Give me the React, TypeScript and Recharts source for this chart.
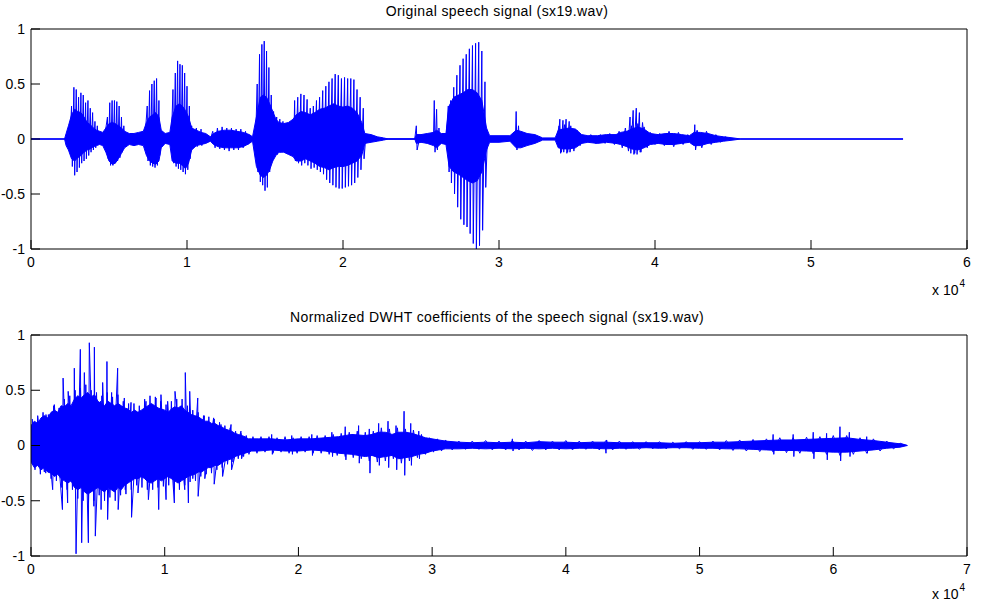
import { ComposedChart, Area, Line, XAxis, YAxis } from 'recharts';

// sx19.wav waveform. core = dense body [sample, low, high]
const speechCore: [number, number, number][] = [
  [0, 0, 0], [2150, 0, 0], [2250, -0.06, 0.05], [2400, -0.1, 0.12], [2600, -0.18, 0.22],
  [2800, -0.2, 0.27], [3000, -0.17, 0.25], [3200, -0.15, 0.24], [3400, -0.12, 0.2],
  [3600, -0.1, 0.15], [3800, -0.09, 0.13], [4000, -0.07, 0.1], [4200, -0.06, 0.08],
  [4400, -0.05, 0.07], [4600, -0.06, 0.06], [4800, -0.12, 0.1], [5000, -0.2, 0.14],
  [5200, -0.23, 0.15], [5400, -0.22, 0.14], [5600, -0.18, 0.12], [5800, -0.13, 0.1],
  [6000, -0.08, 0.07], [6300, -0.05, 0.05], [6600, -0.06, 0.05], [6900, -0.05, 0.06],
  [7200, -0.06, 0.07], [7400, -0.15, 0.15], [7600, -0.2, 0.2], [7800, -0.22, 0.22],
  [8000, -0.23, 0.24], [8200, -0.2, 0.2], [8350, -0.08, 0.08], [8600, -0.04, 0.05],
  [8900, -0.05, 0.06], [9050, -0.2, 0.2], [9300, -0.22, 0.3], [9500, -0.22, 0.32],
  [9700, -0.24, 0.3], [9900, -0.27, 0.26], [10100, -0.22, 0.2], [10300, -0.1, 0.1],
  [10600, -0.06, 0.08], [10900, -0.05, 0.06], [11200, -0.04, 0.05], [11500, -0.02, 0.02],
  [11700, -0.05, 0.05], [12000, -0.07, 0.07], [12400, -0.08, 0.08], [12800, -0.08, 0.08],
  [13200, -0.08, 0.07], [13600, -0.07, 0.06], [14000, -0.04, 0.04], [14200, -0.02, 0.02],
  [14450, -0.25, 0.2], [14700, -0.33, 0.38], [14900, -0.35, 0.4], [15100, -0.33, 0.38],
  [15300, -0.28, 0.32], [15500, -0.2, 0.25], [15700, -0.15, 0.18], [15900, -0.12, 0.15],
  [16200, -0.12, 0.14], [16500, -0.14, 0.15], [16800, -0.16, 0.18], [17000, -0.2, 0.22],
  [17300, -0.2, 0.25], [17600, -0.18, 0.24], [17900, -0.2, 0.22], [18200, -0.22, 0.24],
  [18500, -0.25, 0.27], [18800, -0.26, 0.28], [19100, -0.28, 0.3], [19400, -0.26, 0.32],
  [19700, -0.25, 0.3], [20000, -0.25, 0.29], [20300, -0.24, 0.3], [20600, -0.22, 0.28],
  [20900, -0.2, 0.24], [21200, -0.15, 0.15], [21400, -0.04, 0.05], [21800, -0.03, 0.04],
  [22200, -0.02, 0.02], [22600, -0.01, 0.01], [22900, 0, 0], [24600, 0, 0],
  [24700, -0.04, 0.04], [25000, -0.03, 0.04], [25400, -0.04, 0.05], [25800, -0.06, 0.06],
  [26000, -0.08, 0.08], [26300, -0.04, 0.05], [26600, -0.05, 0.05], [26800, -0.25, 0.3],
  [27100, -0.3, 0.38], [27400, -0.32, 0.4], [27700, -0.35, 0.42], [28000, -0.38, 0.45],
  [28300, -0.4, 0.45], [28600, -0.38, 0.42], [28900, -0.3, 0.35], [29200, -0.1, 0.1],
  [29400, -0.03, 0.03], [30000, -0.03, 0.03], [30700, -0.02, 0.03], [31100, -0.08, 0.08],
  [31400, -0.08, 0.07], [31800, -0.06, 0.05], [32300, -0.04, 0.04], [32800, -0.01, 0.01],
  [33600, -0.01, 0.01], [33800, -0.08, 0.08], [34100, -0.09, 0.09], [34500, -0.09, 0.1],
  [34900, -0.08, 0.09], [35300, -0.04, 0.04], [35700, -0.03, 0.03], [36300, -0.04, 0.03],
  [36900, -0.03, 0.04], [37500, -0.04, 0.04], [37800, -0.05, 0.06], [38200, -0.07, 0.07],
  [38500, -0.09, 0.09], [38900, -0.1, 0.11], [39300, -0.08, 0.09], [39700, -0.05, 0.05],
  [40200, -0.04, 0.04], [40700, -0.05, 0.05], [41200, -0.05, 0.05], [41700, -0.04, 0.04],
  [42200, -0.03, 0.03], [42500, -0.06, 0.06], [42900, -0.06, 0.06], [43400, -0.04, 0.05],
  [43900, -0.03, 0.03], [44400, -0.02, 0.02], [45000, -0.01, 0.01], [45500, 0, 0],
  [55900, 0, 0],
];

// pitch pulses poking out of the body: [sample, amplitude]
const speechPeaks: [number, number][] = [
  [0, 0], [2500, 0],
  [2600, 0.3], [2650, -0.25], [2750, 0.47], [2800, -0.33], [2900, 0.45], [2950, -0.3],
  [3050, 0.38], [3100, -0.26], [3200, 0.42], [3250, -0.22], [3350, 0.4], [3400, -0.2],
  [3500, 0.33], [3550, -0.18], [3650, 0.35], [3700, -0.15], [3800, 0.28], [3850, -0.12],
  [3950, 0.24], [4000, -0.1], [4100, 0.16], [4150, -0.08], [4250, 0.12], [4300, 0],
  [4700, 0], [4900, 0.2], [4950, -0.18], [5050, 0.33], [5100, -0.24], [5200, 0.35],
  [5250, -0.24], [5350, 0.35], [5400, -0.22], [5500, 0.34], [5550, -0.2], [5650, 0.3],
  [5700, -0.17], [5800, 0.2], [5850, -0.12], [5950, 0.12], [6000, 0],
  [7300, 0], [7450, 0.3], [7500, -0.2], [7600, 0.44], [7650, -0.24], [7750, 0.5],
  [7800, -0.25], [7900, 0.53], [7950, -0.26], [8050, 0.55], [8100, -0.24], [8200, 0.35],
  [8250, -0.15], [8350, 0],
  [9000, 0], [9100, 0.45], [9150, -0.22], [9250, 0.6], [9300, -0.25], [9400, 0.71],
  [9450, -0.27], [9550, 0.68], [9600, -0.28], [9700, 0.67], [9750, -0.3], [9850, 0.6],
  [9900, -0.32], [10000, 0.48], [10050, -0.28], [10150, 0.3], [10200, -0.18], [10300, 0.12],
  [10350, 0], [10550, 0], [10600, 0.1], [10650, -0.07], [10700, 0], [10850, 0], [10900, 0.09],
  [10950, -0.06], [11000, 0],
  [14400, 0], [14500, 0.5], [14550, -0.3], [14650, 0.77], [14700, -0.39], [14800, 0.86],
  [14850, -0.42], [14950, 0.89], [15000, -0.47], [15100, 0.8], [15150, -0.44], [15250, 0.65],
  [15300, -0.3], [15400, 0.4], [15450, -0.2], [15550, 0.25], [15600, -0.15], [15750, 0.2],
  [15800, -0.14], [15950, 0.18], [16000, -0.12], [16150, 0.16], [16200, 0],
  [16850, 0], [16900, 0.35], [16950, -0.2], [17100, 0.38], [17150, -0.22], [17300, 0.41],
  [17350, -0.24], [17500, 0.4], [17550, -0.22], [17700, 0.36], [17750, -0.24], [17900, 0.28],
  [17950, -0.27], [18100, 0.3], [18150, -0.26], [18300, 0.35], [18350, -0.28], [18500, 0.38],
  [18550, -0.3], [18700, 0.44], [18750, -0.32], [18900, 0.48], [18950, -0.37], [19100, 0.52],
  [19150, -0.4], [19300, 0.55], [19350, -0.42], [19500, 0.59], [19550, -0.44], [19700, 0.58],
  [19750, -0.45], [19900, 0.55], [19950, -0.45], [20100, 0.56], [20150, -0.44], [20300, 0.55],
  [20350, -0.43], [20500, 0.55], [20550, -0.42], [20700, 0.54], [20750, -0.4], [20900, 0.45],
  [20950, -0.35], [21100, 0.38], [21150, -0.28], [21300, 0.28], [21350, -0.18], [21450, 0],
  [24600, 0], [24700, 0.12], [24750, -0.1], [24900, 0], [25800, 0], [25850, 0.35],
  [25900, -0.12], [26000, 0.27], [26050, -0.1], [26150, 0.1], [26200, 0],
  [26600, 0], [26750, 0.3], [26800, -0.3], [26900, 0.35], [26950, -0.4], [27100, 0.47],
  [27150, -0.5], [27300, 0.58], [27350, -0.62], [27500, 0.67], [27550, -0.73], [27700, 0.73],
  [27750, -0.78], [27900, 0.77], [27950, -0.8], [28100, 0.82], [28150, -0.86], [28300, 0.85],
  [28350, -0.95], [28500, 0.87], [28550, -1.0], [28700, 0.88], [28750, -0.97], [28900, 0.8],
  [28950, -0.83], [29100, 0.52], [29150, -0.44], [29250, 0],
  [31050, 0], [31100, 0.25], [31150, -0.1], [31250, 0.12], [31300, 0],
  [33800, 0], [33900, 0.18], [33950, -0.13], [34100, 0.17], [34150, -0.12], [34300, 0.18],
  [34350, -0.13], [34500, 0.16], [34550, -0.12], [34700, 0],
  [38300, 0], [38400, 0.2], [38450, -0.13], [38600, 0.26], [38650, -0.14], [38800, 0.28],
  [38850, -0.14], [39000, 0.24], [39050, -0.12], [39200, 0.15], [39300, 0],
  [42500, 0], [42550, 0.13], [42600, -0.1], [42700, 0], [55900, 0],
];

// unvoiced noise around the body: [sample, amplitude]
const speechNoise: [number, number][] = [
  [11500, 0], [11650, 0.07], [11800, -0.08], [11950, 0.1], [12100, -0.09], [12250, 0.11],
  [12400, -0.1], [12550, 0.1], [12700, -0.11], [12850, 0.1], [13000, -0.1], [13150, 0.09],
  [13300, -0.1], [13450, 0.09], [13600, -0.08], [13750, 0.07], [13900, -0.05], [14050, 0.03],
  [14200, 0],
  [33700, 0], [33850, 0.12], [34000, -0.12], [34200, 0.13], [34400, -0.12], [34600, 0.12],
  [34800, -0.11], [35000, 0.08], [35200, -0.06], [35400, 0],
  [35600, 0], [35900, 0.04], [36200, -0.04], [36500, 0.04], [36800, -0.04], [37100, 0.05],
  [37400, -0.05], [37700, 0.07], [37900, -0.08], [38100, 0.1], [38300, -0.11], [38500, 0.12],
  [38700, -0.13], [38900, 0.14], [39100, -0.12], [39300, 0.11], [39500, -0.08], [39700, 0.06],
  [40000, -0.05], [40300, 0.05], [40600, -0.06], [40900, 0.07], [41200, -0.07], [41500, 0.06],
  [41800, -0.05], [42100, 0.04], [42400, -0.05], [42700, 0.08], [43000, -0.08], [43300, 0.07],
  [43600, -0.05], [43900, 0.04], [44200, -0.03], [44500, 0.02], [44800, 0],
];

// normalized DWHT coefficients: body [index, low, high]
const dwhtCore: [number, number, number][] = [
  [0, -0.15, 0.18], [250, -0.2, 0.22], [500, -0.18, 0.2], [750, -0.22, 0.25], [1000, -0.2, 0.27],
  [1250, -0.24, 0.25], [1500, -0.25, 0.3], [1750, -0.28, 0.32], [2000, -0.26, 0.3],
  [2250, -0.3, 0.36], [2500, -0.32, 0.35], [2750, -0.34, 0.38], [3000, -0.32, 0.36],
  [3250, -0.38, 0.42], [3500, -0.4, 0.45], [3750, -0.38, 0.43], [4000, -0.42, 0.46],
  [4250, -0.44, 0.48], [4500, -0.42, 0.44], [4750, -0.4, 0.46], [5000, -0.38, 0.4],
  [5250, -0.4, 0.38], [5500, -0.42, 0.36], [5750, -0.38, 0.4], [6000, -0.4, 0.38],
  [6250, -0.42, 0.36], [6500, -0.38, 0.38], [6750, -0.4, 0.36], [7000, -0.36, 0.34],
  [7250, -0.34, 0.33], [7500, -0.32, 0.3], [7750, -0.3, 0.32], [8000, -0.3, 0.3],
  [8250, -0.28, 0.32], [8500, -0.3, 0.34], [8750, -0.33, 0.36], [9000, -0.34, 0.38],
  [9250, -0.32, 0.36], [9500, -0.3, 0.34], [9750, -0.32, 0.33], [10000, -0.3, 0.32],
  [10250, -0.28, 0.3], [10500, -0.3, 0.33], [10750, -0.32, 0.35], [11000, -0.34, 0.34],
  [11250, -0.32, 0.36], [11500, -0.3, 0.32], [11750, -0.28, 0.3], [12000, -0.27, 0.28],
  [12250, -0.26, 0.27], [12500, -0.24, 0.26], [12750, -0.24, 0.24], [13000, -0.22, 0.22],
  [13250, -0.2, 0.22], [13500, -0.2, 0.2], [13750, -0.18, 0.2], [14000, -0.18, 0.18],
  [14250, -0.16, 0.17], [14500, -0.14, 0.15], [14750, -0.13, 0.14], [15000, -0.12, 0.13],
  [15250, -0.1, 0.11], [15500, -0.09, 0.1], [15750, -0.08, 0.09], [16000, -0.07, 0.08],
  [16250, -0.06, 0.06], [16500, -0.05, 0.06], [17000, -0.05, 0.06], [18000, -0.04, 0.06],
  [19000, -0.05, 0.05], [20000, -0.05, 0.06], [21000, -0.04, 0.06], [22000, -0.05, 0.07],
  [23000, -0.07, 0.08], [24000, -0.08, 0.1], [25000, -0.1, 0.09], [25500, -0.09, 0.1],
  [26000, -0.11, 0.12], [26500, -0.1, 0.12], [27000, -0.09, 0.1], [27500, -0.12, 0.12],
  [28000, -0.11, 0.12], [28500, -0.1, 0.11], [29000, -0.08, 0.09], [29500, -0.07, 0.07],
  [30000, -0.05, 0.06], [30500, -0.04, 0.05], [31000, -0.03, 0.04], [32000, -0.03, 0.03],
  [33000, -0.025, 0.025], [34000, -0.03, 0.03], [35000, -0.025, 0.025], [36000, -0.03, 0.03],
  [37000, -0.025, 0.025], [38000, -0.03, 0.035], [39000, -0.025, 0.03], [40000, -0.03, 0.03],
  [41000, -0.025, 0.025], [42000, -0.025, 0.03], [43000, -0.03, 0.03], [44000, -0.025, 0.025],
  [45000, -0.025, 0.025], [46000, -0.02, 0.025], [47000, -0.025, 0.025], [48000, -0.02, 0.02],
  [49000, -0.02, 0.025], [50000, -0.025, 0.025], [51000, -0.025, 0.03], [52000, -0.03, 0.03],
  [53000, -0.03, 0.035], [54000, -0.035, 0.04], [55000, -0.04, 0.045], [56000, -0.045, 0.05],
  [57000, -0.045, 0.05], [58000, -0.05, 0.055], [59000, -0.055, 0.06], [60000, -0.06, 0.065],
  [61000, -0.06, 0.07], [62000, -0.05, 0.055], [63000, -0.04, 0.045], [64000, -0.025, 0.03],
  [65000, -0.015, 0.015], [65536, 0, 0],
];

// largest DWHT coefficients: [index, value]
const dwhtPeaks: [number, number][] = [
  [0, 0], [370, -0.16], [500, 0.27], [1000, -0.24], [1120, 0.28], [1620, -0.4], [1745, 0.37],
  [2350, -0.58], [2400, 0.61], [2740, -0.52], [2780, 0.49], [3200, -0.35], [3240, 0.7],
  [3370, -0.98], [3690, 0.87], [3790, -0.88], [3990, 0.66], [4290, -0.88], [4360, 0.93],
  [4700, -0.5], [4740, 0.89], [4810, -0.82], [5200, 0.4], [5240, -0.58], [5360, 0.57],
  [5650, -0.4], [5680, 0.76], [5730, -0.67], [6030, 0.48], [6100, -0.4], [6480, 0.7],
  [6520, -0.58], [6980, 0.43], [7050, -0.4], [7480, 0.39], [7520, -0.65], [7980, 0.3],
  [8000, -0.43], [8600, 0.4], [8780, -0.49], [9350, 0.43], [9550, -0.58], [9720, 0.46],
  [10100, -0.49], [10220, 0.4], [10720, -0.52], [10770, 0.49], [11500, -0.4], [11540, 0.66],
  [11770, -0.52], [11870, 0.49], [12100, -0.3], [12470, 0.43], [12500, -0.46], [12960, 0.27],
  [13000, -0.3], [13660, 0.25], [13700, -0.35], [14210, 0.19], [14330, -0.28], [14960, 0.19],
  [15000, -0.22], [15700, 0.13], [15750, -0.12], [16000, 0],
  [17950, 0], [18000, 0.1], [18050, -0.08], [18100, 0], [19450, 0], [19500, 0.09], [19550, -0.08],
  [19600, 0], [20950, 0], [21000, 0.1], [21050, -0.09], [21100, 0], [22450, 0], [22500, 0.12],
  [22550, -0.1], [22600, 0], [23450, 0], [23500, 0.17], [23550, -0.13], [23600, 0],
  [24450, 0], [24500, 0.18], [24550, -0.16], [24600, 0], [25250, 0], [25300, 0.15],
  [25350, -0.25], [25400, 0], [25950, 0], [26000, 0.2], [26050, -0.18], [26100, 0],
  [26650, 0], [26700, 0.22], [26750, -0.2], [26800, 0], [27250, 0], [27300, 0.18],
  [27350, -0.22], [27400, 0], [27850, 0], [27900, 0.31], [27950, -0.27], [28000, 0],
  [28350, 0], [28400, 0.2], [28450, -0.18], [28500, 0], [28950, 0], [29000, 0.13],
  [29050, -0.12], [29100, 0],
  [35950, 0], [36000, 0.06], [36050, -0.05], [36100, 0], [42950, 0], [43000, -0.07],
  [43050, 0.05], [43100, 0], [55450, 0], [55500, 0.1], [55550, -0.08], [55600, 0],
  [56950, 0], [57000, 0.1], [57050, -0.1], [57100, 0], [58450, 0], [58500, 0.12],
  [58550, -0.12], [58600, 0], [59450, 0], [59500, 0.11], [59550, -0.13], [59600, 0],
  [60450, 0], [60500, 0.17], [60550, -0.14], [60600, 0], [61150, 0], [61200, 0.12],
  [61250, -0.1], [61300, 0], [62450, 0], [62500, 0.08], [62550, -0.07], [62600, 0],
];

// ragged edge of the DWHT body: [index, value]
const dwhtNoise: [number, number][] = [
  [100, 0.24], [300, -0.22], [500, 0.22], [700, -0.26], [900, 0.3], [1100, -0.25],
  [1300, 0.28], [1500, -0.3], [1700, 0.36], [1900, -0.32], [2100, 0.34], [2300, -0.38],
  [2500, 0.42], [2700, -0.4], [2900, 0.45], [3100, -0.4], [3300, 0.5], [3500, -0.48],
  [3700, 0.52], [3900, -0.5], [4100, 0.55], [4300, -0.52], [4500, 0.5], [4700, -0.55],
  [4900, 0.48], [5100, -0.45], [5300, 0.45], [5500, -0.5], [5700, 0.48], [5900, -0.47],
  [6100, 0.44], [6300, -0.5], [6500, 0.46], [6700, -0.45], [6900, 0.4], [7100, -0.44],
  [7300, 0.38], [7500, -0.4], [7700, 0.38], [7900, -0.36], [8100, 0.36], [8300, -0.38],
  [8500, 0.42], [8700, -0.4], [8900, 0.45], [9100, -0.4], [9300, 0.44], [9500, -0.38],
  [9700, 0.4], [9900, -0.37], [10100, 0.37], [10300, -0.36], [10500, 0.4], [10700, -0.4],
  [10900, 0.42], [11100, -0.4], [11300, 0.42], [11500, -0.36], [11700, 0.36], [11900, -0.33],
  [12100, 0.32], [12300, -0.32], [12500, 0.3], [12700, -0.28], [12900, 0.27], [13100, -0.26],
  [13300, 0.26], [13500, -0.25], [13700, 0.24], [13900, -0.22], [14100, 0.21], [14300, -0.2],
  [14500, 0.18], [14700, -0.17], [14900, 0.16], [15100, -0.15], [15300, 0.13], [15500, -0.12],
  [15700, 0.11], [15900, -0.1], [16100, 0.09], [16300, -0.08], [16600, 0.08], [16900, -0.07],
  [17200, 0.08], [17500, -0.06], [17800, 0.08], [18100, -0.07], [18400, 0.07], [18700, -0.06],
  [19000, 0.08], [19300, -0.07], [19600, 0.07], [19900, -0.07], [20200, 0.08], [20500, -0.06],
  [20800, 0.08], [21100, -0.07], [21400, 0.09], [21700, -0.07], [22000, 0.09], [22300, -0.08],
  [22600, 0.1], [22900, -0.09], [23200, 0.11], [23500, -0.1], [23800, 0.12], [24100, -0.11],
  [24400, 0.13], [24700, -0.12], [25000, 0.12], [25300, -0.14], [25600, 0.13], [25900, -0.15],
  [26200, 0.16], [26500, -0.14], [26800, 0.15], [27100, -0.12], [27400, 0.16], [27700, -0.16],
  [28000, 0.15], [28300, -0.14], [28600, 0.14], [28900, -0.11], [29200, 0.1], [29500, -0.08],
  [29800, 0.07], [30100, -0.06], [30400, 0.06], [30700, -0.05], [31000, 0.05], [31500, -0.04],
  [32000, 0.04], [32500, -0.035], [33000, 0.04], [33500, -0.035], [34000, 0.045], [34500, -0.04],
  [35000, 0.04], [35500, -0.04], [36000, 0.045], [36500, -0.04], [37000, 0.04], [37500, -0.045],
  [38000, 0.045], [38500, -0.04], [39000, 0.04], [39500, -0.04], [40000, 0.045], [40500, -0.04],
  [41000, 0.04], [41500, -0.035], [42000, 0.04], [42500, -0.04], [43000, 0.045], [43500, -0.04],
  [44000, 0.04], [44500, -0.035], [45000, 0.035], [45500, -0.035], [46000, 0.035], [46500, -0.03],
  [47000, 0.035], [47500, -0.03], [48000, 0.03], [48500, -0.03], [49000, 0.035], [49500, -0.035],
  [50000, 0.035], [50500, -0.035], [51000, 0.04], [51500, -0.04], [52000, 0.045], [52500, -0.045],
  [53000, 0.05], [53500, -0.05], [54000, 0.055], [54500, -0.055], [55000, 0.06], [55500, -0.06],
  [56000, 0.07], [56500, -0.065], [57000, 0.07], [57500, -0.07], [58000, 0.075], [58500, -0.075],
  [59000, 0.08], [59500, -0.08], [60000, 0.09], [60500, -0.09], [61000, 0.09], [61500, -0.08],
  [62000, 0.07], [62500, -0.07], [63000, 0.06], [63500, -0.05], [64000, 0.04], [64500, -0.03],
  [65000, 0.02], [65536, 0],
];

const speechTicks = [0, 10000, 20000, 30000, 40000, 50000, 60000];
const dwhtTicks = [0, 10000, 20000, 30000, 40000, 50000, 60000, 70000];
const ampTicks = [-1, -0.5, 0, 0.5, 1];

const BLUE = '#0000ff';
const FONT = '"Liberation Sans", Arial, Helvetica, sans-serif';
const black = { stroke: '#000' };
const tickText = { fill: '#000', fontSize: 14, fontFamily: FONT };

interface PanelProps {
  core: [number, number, number][];
  lines: [number, number][][];
  xTicks: number[];
  top: number;
  height: number;
  marginTop: number;
}

function WavePanel({ core, lines, xTicks, top, height, marginTop }: PanelProps) {
  const band = core.map(([t, lo, hi]) => ({ t, band: [lo, hi] }));
  const xMax = xTicks[xTicks.length - 1];
  return (
    <div style={{ position: 'absolute', left: 0, top }}>
      <ComposedChart width={982} height={height} margin={{ top: marginTop, right: 14, bottom: 0, left: 0 }}>
        <XAxis
          dataKey="t"
          type="number"
          domain={[0, xMax]}
          ticks={xTicks}
          interval={0}
          allowDataOverflow
          tickFormatter={(v) => String(v / 10000)}
          height={51}
          tickSize={-9}
          tickMargin={17}
          axisLine={black}
          tickLine={black}
          tick={tickText}
        />
        <XAxis
          xAxisId="top"
          orientation="top"
          dataKey="t"
          type="number"
          domain={[0, xMax]}
          ticks={xTicks}
          interval={0}
          allowDataOverflow
          height={1}
          tickSize={-9}
          axisLine={black}
          tickLine={black}
          tick={false}
        />
        <YAxis
          type="number"
          domain={[-1, 1]}
          ticks={ampTicks}
          interval={0}
          allowDataOverflow
          width={31}
          tickSize={-9}
          tickMargin={15}
          axisLine={black}
          tickLine={black}
          tick={tickText}
        />
        <YAxis
          yAxisId="right"
          orientation="right"
          type="number"
          domain={[-1, 1]}
          ticks={ampTicks}
          interval={0}
          allowDataOverflow
          width={1}
          tickSize={-9}
          axisLine={black}
          tickLine={black}
          tick={false}
        />
        <Area
          data={band}
          dataKey="band"
          type="linear"
          stroke={BLUE}
          strokeWidth={1}
          fill={BLUE}
          fillOpacity={1}
          dot={false}
          activeDot={false}
          isAnimationActive={false}
        />
        {lines.map((pts, i) => (
          <Line
            key={i}
            data={pts.map(([t, v]) => ({ t, v }))}
            dataKey="v"
            type="linear"
            stroke={BLUE}
            strokeWidth={1}
            dot={false}
            activeDot={false}
            isAnimationActive={false}
          />
        ))}
      </ComposedChart>
    </div>
  );
}

const titleStyle = {
  position: 'absolute' as const,
  left: 0,
  width: 994,
  textAlign: 'center' as const,
  fontSize: 14,
  letterSpacing: 0.4,
  color: '#000',
};

function Exponent({ top }: { top: number }) {
  return (
    <div style={{ position: 'absolute', left: 932, top, fontSize: 14, color: '#000', whiteSpace: 'nowrap' }}>
      x 10<span style={{ fontSize: 10, position: 'relative', top: -8, marginLeft: 1 }}>4</span>
    </div>
  );
}

export default function App() {
  return (
    <div style={{ position: 'absolute', left: 0, top: 0, width: 982, height: 607, background: '#fff', fontFamily: FONT }}>
      <div style={{ ...titleStyle, top: 3 }}>Original speech signal (sx19.wav)</div>
      <WavePanel core={speechCore} lines={[speechNoise, speechPeaks]} xTicks={speechTicks} top={0} height={300} marginTop={28} />
      <Exponent top={282} />
      <div style={{ ...titleStyle, top: 309 }}>Normalized DWHT coefficients of the speech signal (sx19.wav)</div>
      <WavePanel core={dwhtCore} lines={[dwhtNoise, dwhtPeaks]} xTicks={dwhtTicks} top={300} height={307} marginTop={34} />
      <Exponent top={586} />
    </div>
  );
}
